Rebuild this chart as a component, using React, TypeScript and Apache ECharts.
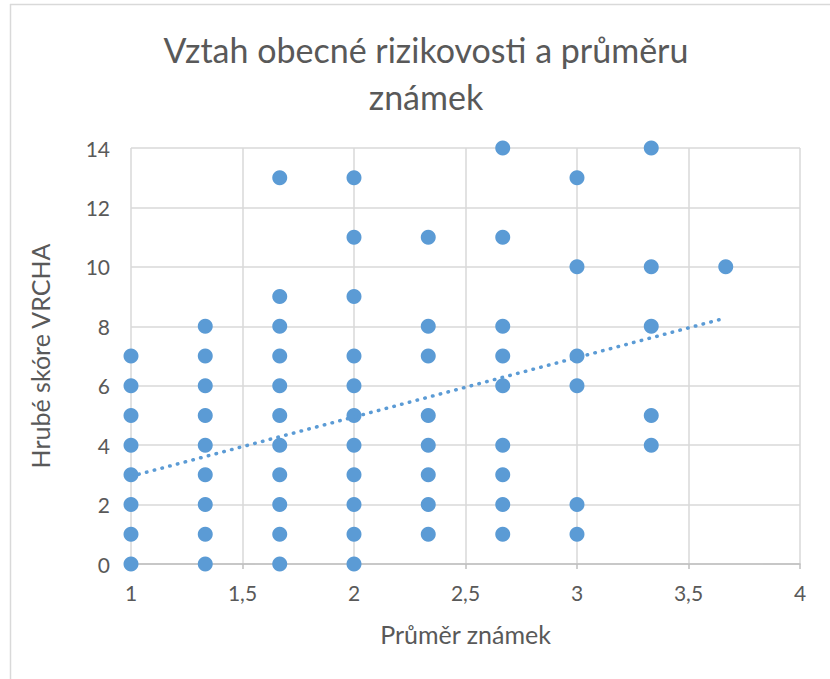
import React, { useEffect, useRef } from "react";
import * as echarts from "echarts";

const titleLines = ["Vztah obecné rizikovosti a průměru", "známek"];
const xAxisName = "Průměr známek";
const yAxisName = "Hrubé skóre VRCHA";

// x positions (grade averages) and the scores observed at each
const gradeAverages = [1, 1.333, 1.667, 2, 2.333, 2.667, 3, 3.333, 3.667];
const scoresAt1_000 = [0, 1, 2, 3, 4, 5, 6, 7];
const scoresAt1_333 = [0, 1, 2, 3, 4, 5, 6, 7, 8];
const scoresAt1_667 = [0, 1, 2, 3, 4, 5, 6, 7, 8, 9, 13];
const scoresAt2_000 = [0, 1, 2, 3, 4, 5, 6, 7, 9, 11, 13];
const scoresAt2_333 = [1, 2, 3, 4, 5, 7, 8, 11];
const scoresAt2_667 = [1, 2, 3, 4, 6, 7, 8, 11, 14];
const scoresAt3_000 = [1, 2, 6, 7, 10, 13];
const scoresAt3_333 = [4, 5, 8, 10, 14];
const scoresAt3_667 = [10];
const scoreGroups = [
  scoresAt1_000,
  scoresAt1_333,
  scoresAt1_667,
  scoresAt2_000,
  scoresAt2_333,
  scoresAt2_667,
  scoresAt3_000,
  scoresAt3_333,
  scoresAt3_667,
];

// linear trend line endpoints
const trendX = [1, 3.667];
const trendY = [2.95, 8.28];

const xTicks = { min: 1, max: 4, interval: 0.5 };
const yTicks = { min: 0, max: 14, interval: 2 };

const BLUE = "#5B9BD5";
const TEXT = "#595959";
const GRID = "#d9d9d9";
const FONT = "Lato, 'Open Sans', sans-serif";

export default function App() {
  const ref = useRef<HTMLDivElement>(null);
  useEffect(() => {
    if (!ref.current) return;
    const chart = echarts.init(ref.current, undefined, { renderer: "svg" });
    const points: number[][] = [];
    scoreGroups.forEach((g, i) => g.forEach((s) => points.push([gradeAverages[i], s])));
    chart.setOption({
      animation: false,
      backgroundColor: "#ffffff",
      textStyle: { fontFamily: FONT },
      grid: { left: 131, right: 30, top: 148, bottom: 115, containLabel: false },
      graphic: [
        {
          type: "line",
          shape: { x1: 10, y1: 4.5, x2: 830, y2: 4.5 },
          style: { stroke: GRID, lineWidth: 1.5 },
        },
        {
          type: "line",
          shape: { x1: 10.5, y1: 4, x2: 10.5, y2: 679 },
          style: { stroke: GRID, lineWidth: 1.5 },
        },
        {
          type: "text",
          x: 426,
          y: 49,
          style: {
            text: titleLines[0],
            font: `34px ${FONT}`,
            fill: TEXT,
            textAlign: "center",
            textVerticalAlign: "middle",
          },
        },
        {
          type: "text",
          x: 426,
          y: 96,
          style: {
            text: titleLines[1],
            font: `34px ${FONT}`,
            fill: TEXT,
            textAlign: "center",
            textVerticalAlign: "middle",
          },
        },
      ],
      xAxis: {
        type: "value",
        min: xTicks.min,
        max: xTicks.max,
        interval: xTicks.interval,
        name: xAxisName,
        nameLocation: "middle",
        nameGap: 57,
        nameTextStyle: { fontSize: 25, color: TEXT, fontFamily: FONT },
        axisLine: { show: true, onZero: false, lineStyle: { color: "#bfbfbf", width: 1.5 } },
        axisTick: { show: true, length: 5, lineStyle: { color: "#bfbfbf", width: 1.5 } },
        axisLabel: {
          fontSize: 21,
          color: TEXT,
          margin: 18,
          fontFamily: FONT,
          formatter: (v: number) => String(v).replace(".", ","),
        },
        splitLine: { show: true, lineStyle: { color: GRID, width: 1.5 } },
      },
      yAxis: {
        type: "value",
        min: yTicks.min,
        max: yTicks.max,
        interval: yTicks.interval,
        name: yAxisName,
        nameLocation: "middle",
        nameGap: 79,
        nameRotate: 90,
        nameTextStyle: { fontSize: 25, color: TEXT, fontFamily: FONT },
        axisLine: { show: false },
        axisTick: { show: false },
        axisLabel: { fontSize: 21, color: TEXT, margin: 21, fontFamily: FONT },
        splitLine: { show: true, lineStyle: { color: GRID, width: 1.5 } },
      },
      series: [
        {
          type: "scatter",
          data: points,
          symbol: "circle",
          symbolSize: 15,
          itemStyle: { color: BLUE, opacity: 1 },
          z: 3,
        },
        {
          type: "line",
          data: trendX.map((x, i) => [x, trendY[i]]),
          showSymbol: false,
          symbol: "none",
          lineStyle: { color: BLUE, width: 3.5, type: [0.5, 7.5], cap: "round" },
          z: 4,
        },
      ],
    });
    return () => chart.dispose();
  }, []);
  return (
    <div
      ref={ref}
      style={{ position: "absolute", left: 0, top: 0, width: 830, height: 679 }}
    />
  );
}
